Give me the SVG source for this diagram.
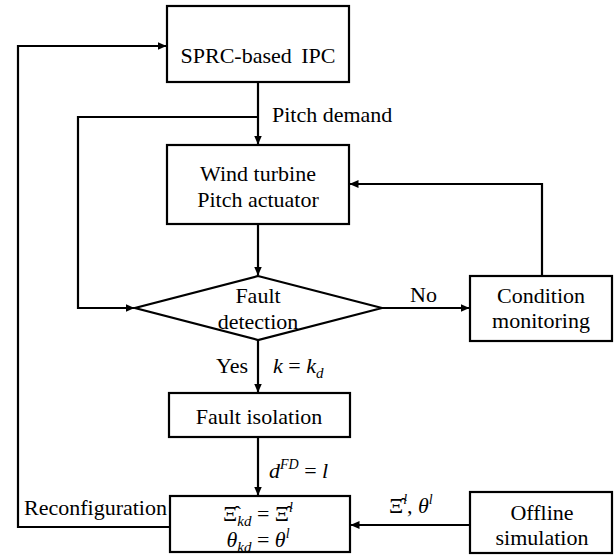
<svg xmlns="http://www.w3.org/2000/svg" width="616" height="555" viewBox="0 0 616 555">
<defs>
<marker id="ah" markerWidth="9" markerHeight="8" refX="8.5" refY="4" orient="auto" markerUnits="userSpaceOnUse">
<path d="M0,0 L9,4 L0,8 Z" fill="#000"/>
</marker>
</defs>
<g id="connectors">
<g fill="none" stroke="#000" stroke-width="2.2">
<polyline points="170,527 18,527 18,46 166,46" marker-end="url(#ah)"/>
<line x1="258" y1="82" x2="258" y2="144" marker-end="url(#ah)"/>
<polyline points="258,117 78,117 78,308 134,308" marker-end="url(#ah)"/>
<line x1="258" y1="224" x2="258" y2="275" marker-end="url(#ah)"/>
<line x1="382" y1="308" x2="469" y2="308" marker-end="url(#ah)"/>
<polyline points="542,276 542,184 350,184" marker-end="url(#ah)"/>
<line x1="258" y1="340" x2="258" y2="392" marker-end="url(#ah)"/>
<line x1="258" y1="437" x2="258" y2="495" marker-end="url(#ah)"/>
<line x1="470" y1="525" x2="351" y2="525" marker-end="url(#ah)"/>
</g>
<text x="272" y="122" font-family="Times New Roman, Liberation Serif, serif" font-size="22">Pitch demand</text>
<text x="410" y="302" font-family="Times New Roman, Liberation Serif, serif" font-size="22">No</text>
<text x="248" y="373" font-family="Times New Roman, Liberation Serif, serif" font-size="22" text-anchor="end">Yes</text>
<text x="273" y="373" font-family="Times New Roman, Liberation Serif, serif" font-size="22"><tspan font-style="italic">k</tspan> = <tspan font-style="italic">k</tspan><tspan font-style="italic" font-size="15" dy="5">d</tspan></text>
<text x="269" y="478" font-family="Times New Roman, Liberation Serif, serif" font-size="22"><tspan font-style="italic">d</tspan><tspan font-style="italic" font-size="14" dy="-9">FD</tspan><tspan dy="9"> = </tspan><tspan font-style="italic">l</tspan></text>
<text x="389" y="513" font-family="Times New Roman, Liberation Serif, serif" font-size="22">Ξ̂<tspan font-style="italic" font-size="14" dy="-9">l</tspan><tspan dy="9">, </tspan><tspan font-style="italic">θ</tspan><tspan font-style="italic" font-size="14" dy="-9">l</tspan></text>
<text x="24" y="515" font-family="Times New Roman, Liberation Serif, serif" font-size="22">Reconfiguration</text>
</g>
<g id="sprc">
<rect x="167" y="6" width="182" height="76" fill="#fff" stroke="#000" stroke-width="2.2"/>
<text x="258" y="63" font-family="Times New Roman, Liberation Serif, serif" font-size="22" text-anchor="middle" word-spacing="4">SPRC-based IPC</text>
</g>
<g id="wind">
<rect x="167" y="145" width="182" height="79" fill="#fff" stroke="#000" stroke-width="2.2"/>
<text x="258" y="181" font-family="Times New Roman, Liberation Serif, serif" font-size="22" text-anchor="middle">Wind turbine</text>
<text x="258" y="207" font-family="Times New Roman, Liberation Serif, serif" font-size="22" text-anchor="middle">Pitch actuator</text>
</g>
<g id="detect">
<polygon points="258,276 382,308 258,340 135,308" fill="#fff" stroke="#000" stroke-width="2.2"/>
<text x="258" y="303" font-family="Times New Roman, Liberation Serif, serif" font-size="22" text-anchor="middle">Fault</text>
<text x="258" y="329" font-family="Times New Roman, Liberation Serif, serif" font-size="22" text-anchor="middle">detection</text>
</g>
<g id="condition">
<rect x="470" y="276" width="142" height="65" fill="#fff" stroke="#000" stroke-width="2.2"/>
<text x="541" y="303" font-family="Times New Roman, Liberation Serif, serif" font-size="22" text-anchor="middle">Condition</text>
<text x="541" y="328" font-family="Times New Roman, Liberation Serif, serif" font-size="22" text-anchor="middle">monitoring</text>
</g>
<g id="isolation">
<rect x="169" y="393" width="181" height="44" fill="#fff" stroke="#000" stroke-width="2.2"/>
<text x="259" y="424" font-family="Times New Roman, Liberation Serif, serif" font-size="22" text-anchor="middle">Fault isolation</text>
</g>
<g id="reconfig">
<rect x="170" y="496" width="180" height="56" fill="#fff" stroke="#000" stroke-width="2.2"/>
<text x="258" y="521" font-family="Times New Roman, Liberation Serif, serif" font-size="22" text-anchor="middle">Ξ̂<tspan font-style="italic" font-size="15" dy="5">kd</tspan><tspan dy="-5"> = Ξ̂</tspan><tspan font-style="italic" font-size="14" dy="-9">l</tspan></text>
<text x="258" y="547" font-family="Times New Roman, Liberation Serif, serif" font-size="22" text-anchor="middle"><tspan font-style="italic">θ</tspan><tspan font-style="italic" font-size="15" dy="5">kd</tspan><tspan dy="-5"> = </tspan><tspan font-style="italic">θ</tspan><tspan font-style="italic" font-size="14" dy="-9">l</tspan></text>
</g>
<g id="offline">
<rect x="470" y="492" width="142" height="61" fill="#fff" stroke="#000" stroke-width="2.2"/>
<text x="542" y="520" font-family="Times New Roman, Liberation Serif, serif" font-size="22" text-anchor="middle">Offline</text>
<text x="542" y="545" font-family="Times New Roman, Liberation Serif, serif" font-size="22" text-anchor="middle">simulation</text>
</g>
</svg>
